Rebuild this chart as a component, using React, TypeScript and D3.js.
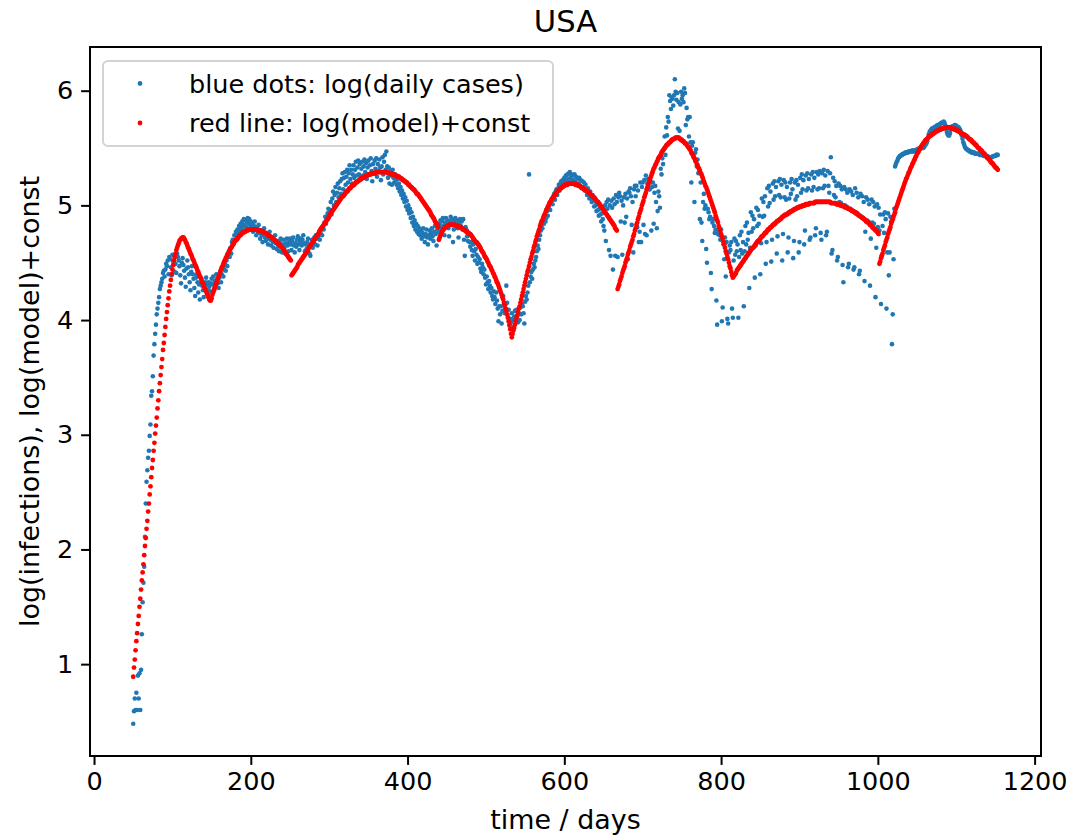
import { useEffect, useRef } from "react";
import * as d3 from "d3";

// all series: one value per day, log10 units x100 (436 -> 4.36)

// blue dots: log(daily cases), chunks start at these days
const blueStarts = [50, 151, 251, 351, 451, 551, 651, 751, 851, 951, 1051];
const blue50 = [
  48, 59, 70, 60, 75, 60, 90, 70, 92, 60, 95, 126, 154, 171, 185, 211, 240, 259, 269, 280,
  286, 299, 309, 334, 338, 351, 369, 379, 388, 396, 405, 410, 415, 420, 427, 430, 433,
  436, 441, 443, 438, 444, 449, 447, 452, 440, 455, 453, 446, 439, 457, 451, 456, 442, 449, 441, 458,
  455, 452, 447, 439, 432, 450, 454, 448, 443, 437, 429, 445, 452, 446, 440, 433, 426, 442, 447, 440,
  436, 428, 421, 437, 440, 433, 424, 431, 418, 432, 436, 430, 426, 420, 428, 433, 437, 431, 426, 433,
  429, 425, 432, 436,
];
const blue151 = [
  431, 438, 427, 434, 429, 440, 436, 432, 428, 437, 442, 433, 440, 446, 438, 444, 449, 443, 452, 447,
  455, 460, 455, 463, 458, 468, 470, 466, 474, 470, 477, 473, 479, 476, 482, 478, 484, 480, 486, 482,
  488, 483, 487, 481, 486, 489, 484, 488, 483, 486, 480, 484, 477, 482, 486, 479, 474, 481, 477, 483,
  476, 471, 478, 474, 468, 476, 480, 472, 469, 475, 471, 466, 473, 477, 470, 465, 472, 468, 463, 470,
  474, 467, 462, 469, 465, 460, 468, 471, 464, 459, 466, 470, 463, 458, 467, 471, 465, 460, 468, 471,
];
const blue251 = [
  466, 461, 469, 472, 465, 459, 467, 464, 470, 473, 466, 461, 468, 471, 465, 470, 474, 467, 460, 466,
  462, 468, 471, 464, 458, 456, 465, 470, 463, 468, 472, 466, 474, 471, 465, 472, 477, 470, 476, 480,
  474, 481, 479, 485, 490, 484, 488, 493, 497, 491, 496, 503, 492, 506, 512, 500, 509, 516, 503, 511,
  519, 507, 515, 521, 510, 523, 528, 514, 524, 529, 518, 525, 531, 520, 528, 535, 523, 531, 519, 527,
  535, 524, 531, 538, 526, 533, 539, 527, 536, 524, 532, 538, 526, 534, 540, 529, 537, 523, 533, 539,
];
const blue351 = [
  527, 535, 541, 530, 521, 536, 528, 539, 532, 541, 525, 536, 530, 540, 533, 522, 534, 542, 527, 538,
  544, 531, 547, 534, 524, 533, 519, 530, 526, 518, 531, 524, 520, 527, 522, 518, 523, 515, 519, 512,
  516, 509, 513, 506, 510, 503, 507, 499, 504, 496, 500, 493, 497, 489, 494, 485, 490, 482, 487, 479,
  484, 477, 482, 475, 480, 474, 478, 471, 476, 480, 473, 468, 475, 479, 472, 466, 474, 478, 471, 476,
  480, 473, 469, 477, 482, 475, 465, 479, 484, 477, 483, 487, 480, 486, 489, 482, 474, 485, 489, 483,
];
const blue451 = [
  487, 480, 473, 486, 490, 484, 488, 468, 479, 486, 489, 483, 487, 480, 472, 485, 488, 482, 486, 479,
  488, 470, 456, 481, 479, 473, 469, 474, 468, 464, 468, 461, 456, 466, 460, 452, 462, 457, 449, 455,
  450, 453, 445, 442, 449, 446, 440, 444, 437, 431, 438, 433, 427, 434, 430, 424, 428, 421, 418, 425,
  420, 414, 424, 417, 410, 399, 412, 405, 412, 397, 408, 421, 413, 406, 410, 430, 415, 403, 409, 395,
  401, 398, 406, 400, 394, 403, 408, 401, 409, 404, 398, 406, 400, 411, 405, 414, 412, 406, 397, 416,
];
const blue551 = [
  421, 418, 424, 430, 527, 433, 438, 442, 436, 444, 449, 446, 452, 455, 460, 465, 462, 470, 474, 478,
  483, 480, 487, 484, 491, 486, 489, 495, 491, 498, 501, 496, 503, 506, 501, 508, 510, 505, 512, 514,
  509, 515, 518, 513, 519, 521, 516, 522, 518, 524, 520, 526, 522, 527, 523, 528, 529, 524, 527, 521,
  526, 522, 527, 520, 525, 518, 523, 519, 524, 517, 522, 515, 521, 516, 520, 513, 518, 514, 509, 515,
  511, 506, 512, 508, 503, 509, 505, 499, 504, 500, 495, 501, 496, 491, 497, 492, 486, 493, 488, 482,
];
const blue651 = [
  478, 500, 469, 503, 497, 505, 461, 500, 456, 504, 498, 444, 506, 501, 456, 509, 503, 455, 507, 511,
  508, 486, 504, 457, 500, 507, 485, 510, 490, 506, 453, 512, 511, 515, 508, 483, 503, 459, 514, 517,
  508, 517, 481, 513, 468, 477, 520, 468, 516, 520, 483, 522, 475, 526, 474, 519, 523, 514, 514, 520,
  478, 516, 520, 484, 511, 517, 503, 480, 495, 512, 508, 498, 532, 527, 541, 536, 549, 560, 544, 568,
  561, 577, 573, 596, 591, 584, 594, 593, 587, 596, 610, 599, 592, 598, 567, 590, 565, 588, 599, 593,
];
const blue751 = [
  596, 590, 602, 598, 570, 585, 575, 577, 560, 577, 555, 520, 552, 555, 544, 503, 546, 549, 534, 540,
  528, 529, 488, 520, 485, 469, 503, 510, 497, 500, 462, 450, 497, 494, 488, 490, 441, 427, 485, 488,
  482, 476, 479, 417, 396, 475, 477, 474, 470, 479, 399, 411, 466, 453, 472, 438, 468, 401, 397, 459,
  465, 461, 468, 410, 402, 452, 471, 457, 469, 460, 466, 402, 455, 474, 461, 477, 458, 468, 412, 460,
  482, 466, 485, 470, 476, 428, 463, 494, 477, 491, 480, 488, 437, 465, 498, 482, 496, 484, 491, 440,
];
const blue851 = [
  467, 506, 490, 503, 491, 508, 449, 468, 515, 499, 517, 502, 512, 451, 470, 519, 505, 521, 508, 516,
  458, 473, 521, 509, 523, 507, 518, 452, 475, 522, 507, 520, 505, 516, 459, 472, 506, 520, 510, 523,
  514, 454, 469, 520, 505, 522, 508, 518, 459, 468, 524, 511, 527, 514, 522, 466, 478, 526, 513, 528,
  515, 523, 470, 472, 527, 513, 529, 516, 524, 474, 480, 529, 514, 527, 515, 530, 476, 470, 528, 515,
  531, 517, 526, 474, 477, 530, 517, 511, 528, 542, 458, 461, 524, 509, 521, 507, 517, 452, 455, 519,
];
const blue951 = [
  503, 517, 502, 514, 448, 433, 516, 500, 514, 499, 511, 446, 449, 514, 497, 512, 496, 509, 444, 446,
  515, 494, 511, 493, 507, 440, 443, 510, 490, 508, 489, 503, 434, 477, 507, 487, 505, 486, 501, 430,
  471, 505, 485, 503, 484, 499, 420, 463, 501, 481, 498, 478, 492, 414, 456, 482, 492, 476, 494, 488,
  410, 459, 493, 439, 459, 490, 486, 379, 405, 453, 497, 534, 536, 538, 539, 541, 542, 543, 543, 544,
  544, 545, 545, 545, 546, 546, 546, 546, 547, 547, 547, 547, 547, 548, 547, 547, 548, 548, 548, 549,
];
const blue1051 = [
  548, 549, 550, 549, 550, 551, 550, 550, 551, 552, 553, 554, 556, 559, 562, 564, 565, 566, 567, 567,
  567, 568, 568, 569, 569, 570, 570, 570, 571, 571, 572, 572, 572, 573, 572, 570, 567, 564, 562, 561,
  561, 563, 566, 568, 569, 569, 569, 570, 570, 569, 569, 568, 568, 567, 566, 564, 561, 558, 555, 553,
  551, 550, 549, 549, 548, 548, 547, 547, 547, 546, 546, 546, 546, 545, 545, 545, 545, 545, 545, 544,
  544, 544, 544, 544, 543, 543, 543, 543, 543, 543, 542, 542, 542, 542, 542, 542, 543, 543, 543, 543,
  544, 544, 544,
];
const blueChunks = [blue50, blue151, blue251, blue351, blue451, blue551, blue651, blue751, blue851, blue951, blue1051];

// red line: log(model)+const, one model piece per wave
const redStarts = [50, 149, 252, 440, 533, 668, 816, 1002];
const red1 = [
  89, 97, 104, 112, 120, 127, 135, 142, 150, 157, 165, 173, 180, 187, 195, 203, 210, 218, 225, 233,
  240, 248, 255, 263, 271, 278, 286, 293, 301, 308, 315, 323, 330, 338, 345, 352, 359, 366, 374, 380,
  387, 394, 401, 407, 413, 419, 425, 430, 435, 440, 444, 448, 452, 455, 458, 461, 463, 465, 467, 469,
  470, 471, 471, 472, 472, 471, 470, 468, 467, 465, 463, 462, 460, 458, 457, 455, 453, 452, 450, 448,
  447, 445, 443, 442, 440, 438, 437, 435, 433, 432, 430, 428, 427, 425, 423, 422, 420, 418, 417,
];
const red2 = [
  417, 419, 422, 424, 426, 428, 430, 432, 434, 436, 438, 440, 442, 444, 446, 447, 449, 451, 452, 454,
  455, 457, 458, 459, 461, 462, 463, 464, 466, 467, 468, 469, 470, 470, 471, 472, 473, 474, 474, 475,
  476, 476, 477, 477, 477, 478, 478, 478, 479, 479, 479, 479, 479, 479, 479, 479, 479, 479, 479, 479,
  478, 478, 478, 478, 478, 477, 477, 477, 476, 476, 476, 475, 475, 474, 474, 473, 473, 472, 472, 471,
  471, 470, 469, 469, 468, 467, 467, 466, 465, 464, 464, 463, 462, 461, 460, 459, 458, 457, 456, 455,
  454, 453, 452,
];
const red3 = [
  439, 440, 441, 442, 443, 444, 445, 446, 448, 449, 450, 451, 452, 453, 454, 455, 456, 457, 458, 459,
  460, 461, 463, 464, 465, 466, 467, 468, 469, 470, 471, 472, 473, 474, 475, 476, 478, 479, 480, 481,
  482, 483, 484, 485, 486, 487, 488, 489, 490,
  492, 493, 494, 495, 496, 497, 498, 499, 500, 501, 502, 503, 504, 505, 506, 507, 508, 508, 509, 510,
  511, 512, 512, 513, 514, 515, 515, 516, 517, 517, 518, 518, 519, 520, 520, 521, 521, 522, 522, 523,
  523, 524, 524, 524, 525, 525, 526, 526, 526, 527, 527, 527, 527, 528, 528, 528, 528, 528, 528, 529,
  529, 529, 529, 529, 529, 529, 529,
  529, 529, 529, 529, 529, 529, 529, 528, 528, 528, 528, 528, 527, 527, 527, 527, 526, 526, 526, 525,
  525, 525, 524, 524, 523, 523, 522, 522, 521, 521, 520, 520, 519, 518, 518, 517, 516, 516, 515, 514,
  514, 513, 512, 511, 510, 510, 509, 508, 507, 506, 505, 504, 503, 502, 501, 500, 499, 498, 497, 496,
  495, 494, 492, 491, 490, 489, 488, 486, 485, 484, 483, 481,
];
const red4 = [
  470, 472, 474, 475, 477, 478, 479, 480, 481, 481, 482, 482, 483, 483, 483, 483, 483, 483, 483, 483,
  483, 483, 482, 482, 482, 482, 481, 481, 481, 480, 480, 479, 479, 478, 478, 477, 477, 476, 476, 475,
  475, 474, 473, 472, 471, 470, 469, 468, 468, 467, 466, 465, 464, 463, 461, 460, 459, 458, 456, 455,
  454, 453, 451, 450, 448, 447, 446, 444, 443, 441, 440, 438, 437, 435, 433, 432, 430, 428, 426, 424,
  422, 420, 418, 415, 413, 410, 408, 405, 402, 399, 396, 392, 388,
];
const red5 = [
  385, 388, 391, 393, 396, 399, 402, 404, 407, 410, 412, 415, 418, 421, 424, 427, 430, 433, 436, 439,
  442, 444, 447, 450, 453, 455, 458, 460, 463, 465, 468, 470, 473, 475, 477, 479, 482, 484, 486, 487,
  489, 491, 492, 494, 496, 497, 499, 500, 502, 503, 504, 505, 506, 507, 508, 509, 510, 511, 512, 513,
  513, 514, 515, 515, 516, 516, 517, 517, 518, 518, 518, 518, 519, 519, 519, 519, 519, 519, 519, 519,
  519, 518, 518, 518, 518, 517, 517, 517, 516, 516, 515, 515, 514, 514, 513, 513, 512, 512, 511, 511,
  510, 509, 509, 508, 507, 507, 506, 505, 504, 503, 503, 502, 501, 500, 499, 498, 497, 496, 495, 494,
  493, 492, 491, 490, 489, 488, 487, 486, 485, 484, 483, 482, 480, 479, 478,
];
const red6 = [
  427, 429, 431, 434, 436, 438, 441, 443, 445, 447, 450, 452, 454, 457, 459, 461, 464, 466, 468, 470,
  473, 475, 478, 480, 483, 485, 488, 490, 493, 495, 497, 500, 502, 504, 507, 509, 511, 514, 516, 518,
  520, 522, 524, 526, 528, 530, 532, 533, 535, 536, 538, 539, 541, 542, 543, 544, 546, 547, 548, 549,
  550, 551, 552, 553, 553, 554, 555, 555, 556, 557, 557, 558, 558, 558, 559, 559,
  559, 559, 559, 558, 558, 557, 557, 556, 556, 555, 554, 554, 553, 552, 551, 550, 549, 548, 546, 545,
  544, 542, 541, 539, 538, 536, 535, 533, 532, 530, 528, 527, 525, 523, 521, 519, 517, 516, 514, 512,
  510, 508, 506, 504, 502, 500, 498, 496, 494, 491, 489, 487, 485, 482, 480, 478, 475, 473, 471, 468,
  466, 463, 460, 458, 455, 453, 450, 447, 445, 442, 439, 437,
];
const red7 = [
  438, 439, 440, 441, 443, 444, 445, 446, 447, 448, 449, 450, 451, 452, 453, 454, 455, 456, 457, 458,
  459, 460, 461, 462, 463, 463, 464, 465, 466, 467, 468, 469, 469, 470, 471, 472, 473, 473, 474, 475,
  476, 476, 477, 478, 479, 479, 480, 481, 481, 482, 483, 483, 484, 484, 485, 486, 486, 487, 487, 488,
  488, 489, 490, 490, 491, 491, 492, 492, 492, 493, 493, 494, 494, 495, 495, 495, 496, 496, 497, 497,
  497, 498, 498, 498, 499, 499, 499, 499, 500, 500, 500, 500, 501, 501, 501, 501, 501, 502, 502, 502,
  502, 502, 502, 502, 503, 503, 503, 503, 503, 503, 503, 503, 503, 503, 503,
  503, 503, 503, 503, 503, 503, 503, 503, 503, 502, 502, 502, 502, 502, 502, 502, 501, 501, 501, 501,
  501, 500, 500, 500, 500, 499, 499, 499, 498, 498, 498, 497, 497, 497, 496, 496, 495, 495, 495, 494,
  494, 493, 493, 492, 492, 491, 491, 490, 490, 489, 489, 488, 488, 487, 486, 486, 485, 485, 484, 483,
  483, 482, 481, 480, 480, 479, 478, 478, 477, 476, 475,
];
const red8 = [
  449, 451, 454, 456, 458, 461, 463, 465, 468, 470, 472, 475, 477, 479, 481, 484, 486, 488, 490, 492,
  494, 497, 499, 501, 503, 505, 507, 509, 511, 513, 515, 517, 519, 521, 523, 524, 526, 528, 529, 531,
  533, 534, 536, 537, 539, 540, 542, 543, 545, 546, 547, 549, 550, 551, 552, 553, 554, 555, 556, 557,
  557, 558, 559, 560, 560, 561, 561, 562, 562, 563, 563, 564, 564, 565, 565, 565, 566, 566, 566, 567,
  567, 567, 567, 568, 568, 568, 568, 568,
  568, 568, 568, 568, 567, 567, 567, 567, 566, 566, 566, 565, 565, 565, 564, 564, 563, 563, 562, 562,
  562, 561, 561, 560, 560, 559, 558, 558, 557, 557, 556, 555, 555, 554, 553, 553, 552, 551, 550, 550,
  549, 548, 548, 547, 546, 545, 545, 544, 543, 542, 541, 541, 540, 539, 538, 537, 537, 536, 535, 534,
  533, 533, 532, 531,
];
const redChunks = [red1, red2, red3, red4, red5, red6, red7, red8];

const xTicks = [0, 200, 400, 600, 800, 1000, 1200];
const yTicks = [1, 2, 3, 4, 5, 6];
const legendLabels = ["blue dots: log(daily cases)", "red line: log(model)+const"];
const colors = ["#1f77b4", "#ff0000"];

const W = 1073;
const H = 840;
const M = { left: 90, right: 1041, top: 47, bottom: 756 };
const FONT = "DejaVu Sans";
const FS = 25.5; // ticks and legend
const LABEL_FS = 26.9; // axis labels

const toPoints = (starts: number[], chunks: number[][]) =>
  chunks.flatMap((vals, i) => vals.map((v, j) => ({ day: starts[i] + j, value: v / 100 })));

export default function App() {
  const svgRef = useRef<SVGSVGElement>(null);

  useEffect(() => {
    const svg = d3.select(svgRef.current);
    svg.selectAll("*").remove();

    const blue = toPoints(blueStarts, blueChunks);
    const red = toPoints(redStarts, redChunks);
    const all = blue.concat(red);

    // matplotlib style 5% margins
    const [x0, x1] = d3.extent(all, (d) => d.day) as [number, number];
    const [y0, y1] = d3.extent(all, (d) => d.value) as [number, number];
    const xPad = (x1 - x0) * 0.05;
    const yPad = (y1 - y0) * 0.05;

    const x = d3.scaleLinear().domain([x0 - xPad, x1 + xPad]).range([M.left, M.right]);
    const y = d3.scaleLinear().domain([y0 - yPad, y1 + yPad]).range([M.bottom, M.top]);

    svg.append("rect").attr("width", W).attr("height", H).attr("fill", "#fff");

    // axes
    const xAxis = svg
      .append("g")
      .attr("transform", `translate(0,${M.bottom})`)
      .call(d3.axisBottom(x).tickValues(xTicks).tickSize(8.9).tickPadding(6.5).tickFormat(d3.format("d")));
    const yAxis = svg
      .append("g")
      .attr("transform", `translate(${M.left},0)`)
      .call(d3.axisLeft(y).tickValues(yTicks).tickSize(8.9).tickPadding(8).tickFormat(d3.format("d")));
    [xAxis, yAxis].forEach((g) => {
      g.select(".domain").remove();
      g.selectAll("line").attr("stroke", "#000").attr("stroke-width", 2);
      g.selectAll("text")
        .attr("font-family", FONT)
        .attr("font-size", FS)
        .attr("fill", "#000");
    });

    // blue dots, then the red model on top
    svg
      .append("g")
      .selectAll("circle")
      .data(blue)
      .join("circle")
      .attr("cx", (d) => x(d.day))
      .attr("cy", (d) => y(d.value))
      .attr("r", 2.3)
      .attr("fill", colors[0]);

    svg
      .append("g")
      .selectAll("circle")
      .data(red)
      .join("circle")
      .attr("cx", (d) => x(d.day))
      .attr("cy", (d) => y(d.value))
      .attr("r", 2.4)
      .attr("fill", colors[1]);

    // frame
    svg
      .append("rect")
      .attr("x", M.left)
      .attr("y", M.top)
      .attr("width", M.right - M.left)
      .attr("height", M.bottom - M.top)
      .attr("fill", "none")
      .attr("stroke", "#000")
      .attr("stroke-width", 2);

    // legend
    const legend = svg.append("g");
    legend
      .append("rect")
      .attr("x", 103)
      .attr("y", 61)
      .attr("width", 450)
      .attr("height", 85)
      .attr("rx", 5)
      .attr("fill", "#fff")
      .attr("fill-opacity", 0.8)
      .attr("stroke", "#d3d3d3")
      .attr("stroke-width", 2);
    legendLabels.forEach((label, i) => {
      const cy = 83.5 + i * 39.5;
      legend.append("circle").attr("cx", 140).attr("cy", cy).attr("r", 2.4).attr("fill", colors[i]);
      legend
        .append("text")
        .attr("x", 189)
        .attr("y", cy + 9.2)
        .attr("font-family", FONT)
        .attr("font-size", FS)
        .text(label);
    });

    // titles
    svg
      .append("text")
      .attr("x", (M.left + M.right) / 2)
      .attr("y", 32)
      .attr("text-anchor", "middle")
      .attr("font-family", FONT)
      .attr("font-size", 30.6)
      .text("USA");
    svg
      .append("text")
      .attr("x", (M.left + M.right) / 2)
      .attr("y", 829)
      .attr("text-anchor", "middle")
      .attr("font-family", FONT)
      .attr("font-size", LABEL_FS)
      .text("time / days");
    svg
      .append("text")
      .attr("transform", `translate(38.5,${(M.top + M.bottom) / 2}) rotate(-90)`)
      .attr("text-anchor", "middle")
      .attr("font-family", FONT)
      .attr("font-size", LABEL_FS)
      .text("log(infections), log(model)+const");
  }, []);

  return <svg ref={svgRef} width={W} height={H} style={{ position: "absolute", left: 0, top: 0 }} />;
}
